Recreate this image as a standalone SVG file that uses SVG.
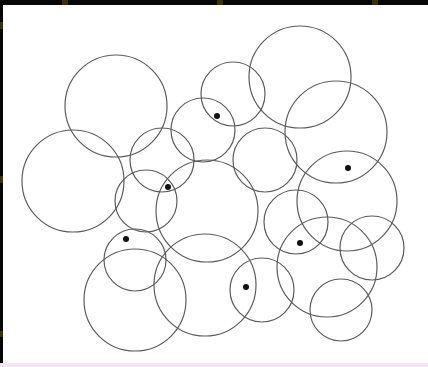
<svg xmlns="http://www.w3.org/2000/svg" width="428" height="367" viewBox="0 0 428 367">
<style>
.c{fill:none;stroke:#5c5c5c;stroke-width:1.2}
.d{fill:#111}
.m{fill:#3a3205}
</style>
<rect x="0" y="0" width="428" height="367" fill="#fff"/>
<rect x="0" y="0" width="428" height="5" fill="#070707"/>
<rect x="0" y="0" width="3" height="367" fill="#070707"/>
<rect x="0" y="363" width="428" height="4" fill="#f4e6f4"/>
<rect class="m" x="62" y="0" width="6" height="5"/>
<rect class="m" x="217" y="0" width="6" height="5"/>
<rect class="m" x="372" y="0" width="6" height="5"/>
<rect class="m" x="0" y="22" width="3" height="7"/>
<rect class="m" x="0" y="176" width="3" height="7"/>
<rect class="m" x="0" y="331" width="3" height="6"/>
<g id="circles">
<circle class="c" cx="116" cy="106" r="51"/>
<circle class="c" cx="73" cy="181" r="51"/>
<circle class="c" cx="300" cy="77" r="51"/>
<circle class="c" cx="336" cy="132" r="51"/>
<circle class="c" cx="233" cy="94" r="32"/>
<circle class="c" cx="203" cy="130" r="32"/>
<circle class="c" cx="265" cy="160" r="32"/>
<circle class="c" cx="162" cy="160" r="32"/>
<circle class="c" cx="146" cy="201" r="31"/>
<circle class="c" cx="207" cy="211" r="51"/>
<circle class="c" cx="347" cy="201" r="50"/>
<circle class="c" cx="296" cy="222" r="32"/>
<circle class="c" cx="372" cy="248" r="32"/>
<circle class="c" cx="327" cy="267" r="50"/>
<circle class="c" cx="341" cy="310" r="31"/>
<circle class="c" cx="262" cy="290" r="32"/>
<circle class="c" cx="205" cy="285" r="51"/>
<circle class="c" cx="135" cy="300" r="51"/>
<circle class="c" cx="135" cy="260" r="31"/>
</g>
<g id="dots">
<circle class="d" cx="217" cy="116" r="3"/>
<circle class="d" cx="168" cy="187" r="3"/>
<circle class="d" cx="348" cy="168" r="3"/>
<circle class="d" cx="126" cy="239" r="3"/>
<circle class="d" cx="300" cy="243" r="3"/>
<circle class="d" cx="246" cy="287" r="3"/>
</g>
</svg>
